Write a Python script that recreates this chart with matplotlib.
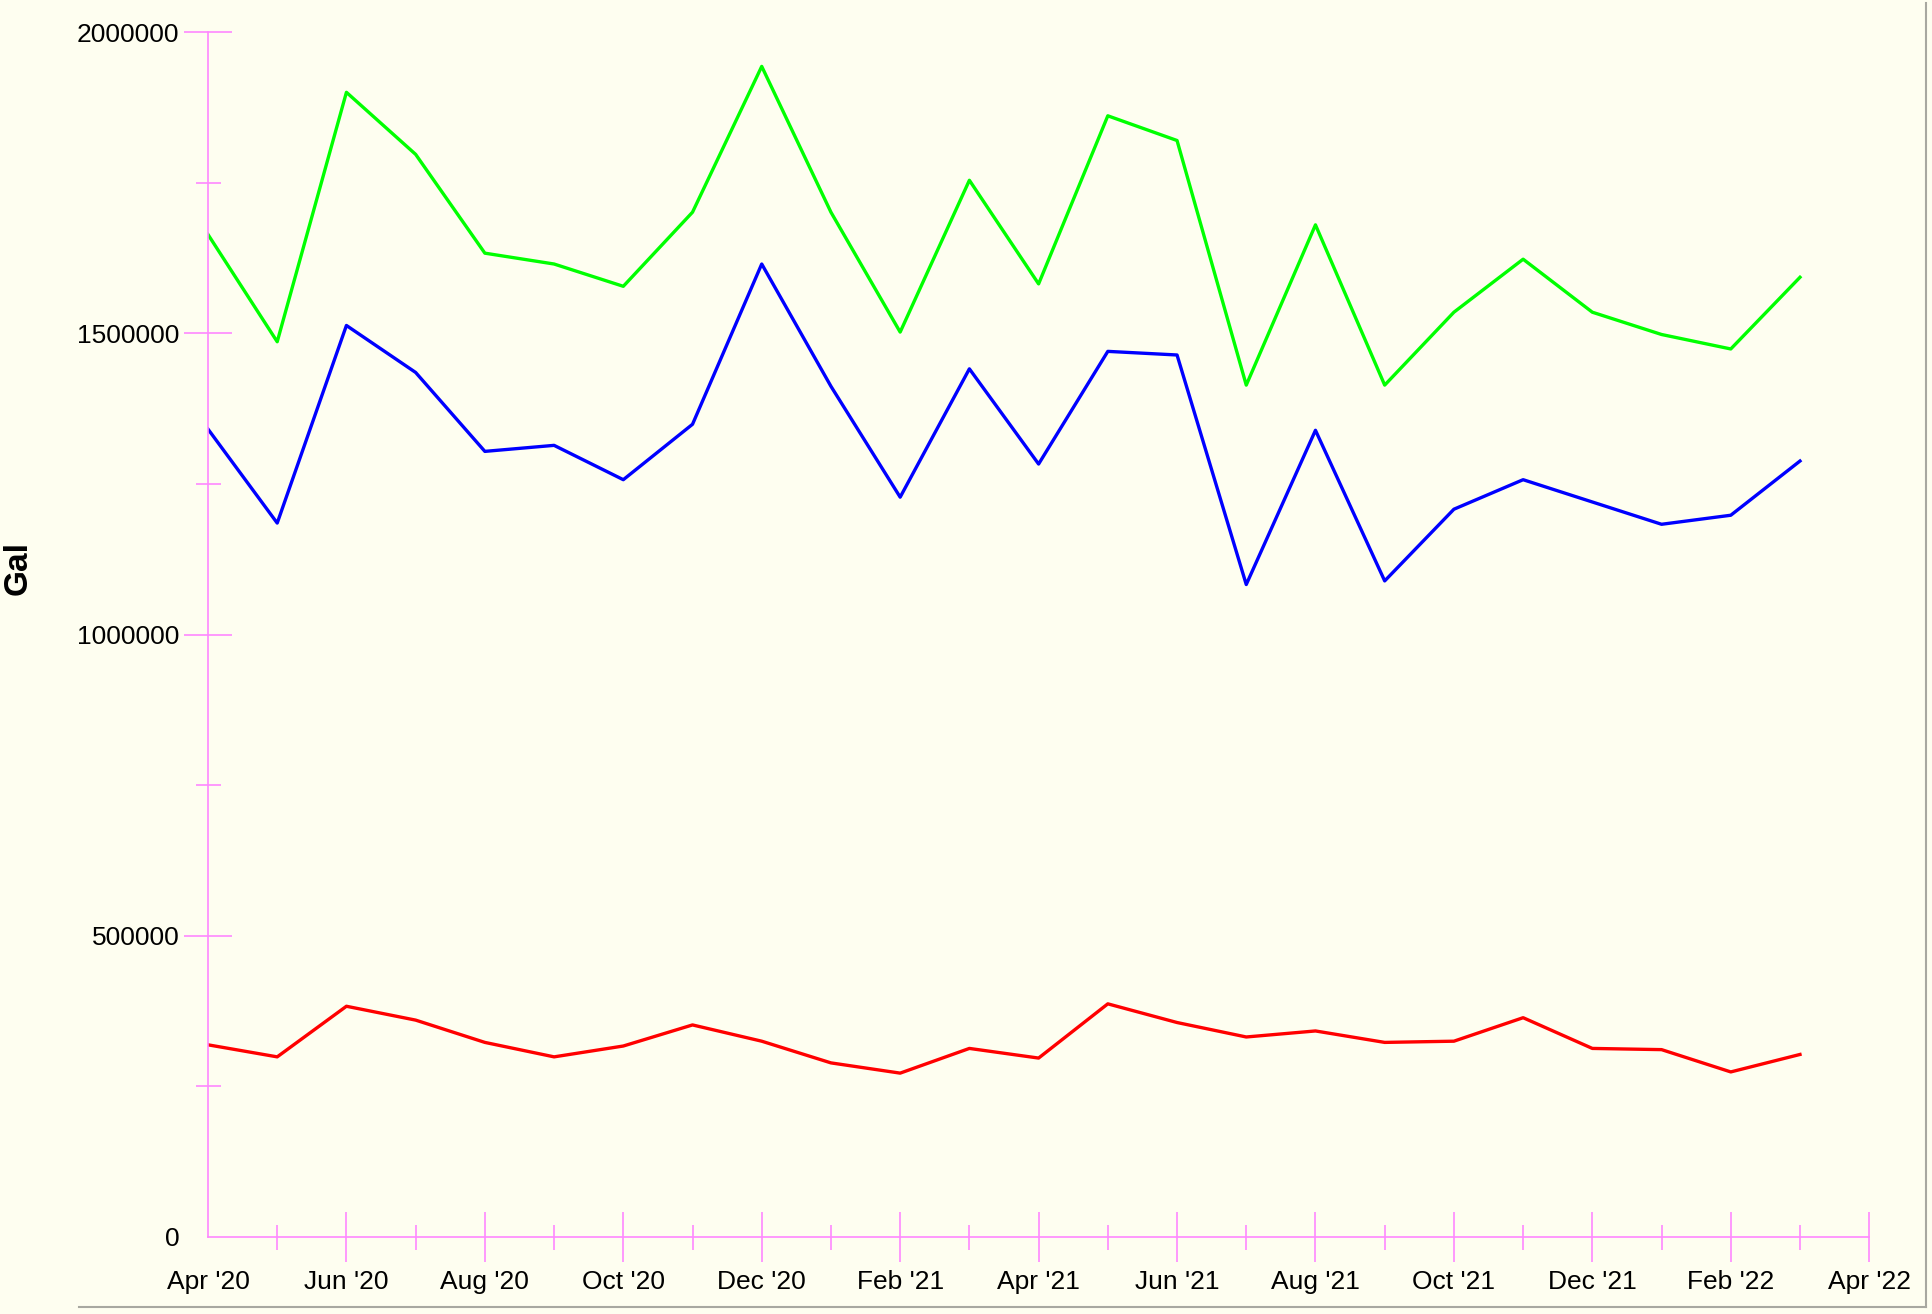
import numpy as np
import matplotlib
matplotlib.use("Agg")
import matplotlib.pyplot as plt
from matplotlib.lines import Line2D

plt.rcParams['font.family'] = ['Liberation Sans', 'DejaVu Sans']

# monthly values, Apr '20 .. Mar '22
month_labels = ["Apr '20", "Jun '20", "Aug '20", "Oct '20", "Dec '20", "Feb '21", "Apr '21",
                "Jun '21", "Aug '21", "Oct '21", "Dec '21", "Feb '22", "Apr '22"]

total = [1664000, 1486000, 1900000, 1797000, 1633000, 1615000, 1578000, 1701000,
         1943000, 1701000, 1502000, 1754000, 1582000, 1861000, 1820000, 1414000,
         1680000, 1414000, 1535000, 1623000, 1535000, 1498000, 1474000, 1593000]
blue_vals = [1341000, 1185000, 1513000, 1435000, 1304000, 1314000, 1257000, 1349000,
             1615000, 1412000, 1228000, 1441000, 1283000, 1470000, 1464000, 1083000,
             1339000, 1089000, 1208000, 1257000, 1220000, 1183000, 1198000, 1288000]
red_vals = [319000, 299000, 383000, 360000, 323000, 299000, 317000, 352000,
            325000, 289000, 272000, 313000, 297000, 387000, 356000, 332000,
            342000, 323000, 325000, 364000, 313000, 311000, 274000, 303000]

bg = '#fefef0'
tick_col = '#ff88ff'

x = np.arange(len(total))

fig = plt.figure(figsize=(19.33, 13.14), dpi=100, facecolor=bg)
ax = fig.add_axes([0.1076, 0.0586, 0.967 - 0.1076, 0.9756 - 0.0586])
ax.set_facecolor(bg)

ax.plot(x, total, color='#00ff00', lw=2.4)
ax.plot(x, blue_vals, color='#0000ff', lw=2.4)
ax.plot(x, red_vals, color='#ff0000', lw=2.4)

ax.set_xlim(0, 24)
ax.set_ylim(0, 2000000)

for s in ['top', 'right']:
    ax.spines[s].set_visible(False)
for s in ['left', 'bottom']:
    ax.spines[s].set_color(tick_col)
    ax.spines[s].set_linewidth(1.2)

ax.set_xticks(np.arange(0, 25, 2))
ax.set_xticklabels(month_labels)
ax.set_xticks(np.arange(1, 24, 2), minor=True)
ax.set_yticks([0, 500000, 1000000, 1500000, 2000000])
ax.set_yticklabels(['0', '500000', '1000000', '1500000', '2000000'])
ax.set_yticks(np.arange(250000, 2000000, 500000), minor=True)

ax.tick_params(axis='x', which='major', direction='inout', length=36, width=1.2,
               color=tick_col, labelsize=19, pad=6)
ax.tick_params(axis='x', which='minor', direction='inout', length=18, width=1.2,
               color=tick_col)
ax.tick_params(axis='y', which='major', direction='inout', length=35, width=1.2,
               color=tick_col, labelsize=19, pad=3)
ax.tick_params(axis='y', which='minor', direction='inout', length=18, width=1.2,
               color=tick_col)

# no tick marks at the origin corner
ax.xaxis.get_major_ticks()[0].tick1line.set_visible(False)
ax.yaxis.get_major_ticks()[0].tick1line.set_visible(False)

ax.set_ylabel('Gal', fontsize=24, fontweight='bold')
ax.yaxis.set_label_coords((34 - 208) / (1869 - 208), (1237 - 568) / (1237 - 32))

# panel border lines (bottom and right edge)
fig.add_artist(Line2D([79 / 1933, 1926 / 1933], [1 - 1307 / 1314] * 2,
                      transform=fig.transFigure, color='#a8a8a0', lw=1.5))
fig.add_artist(Line2D([1926 / 1933] * 2, [1 - 1307 / 1314, 1 - 3 / 1314],
                      transform=fig.transFigure, color='#a8a8a0', lw=1.5))

fig.savefig('out.png', dpi=100, facecolor=bg)
